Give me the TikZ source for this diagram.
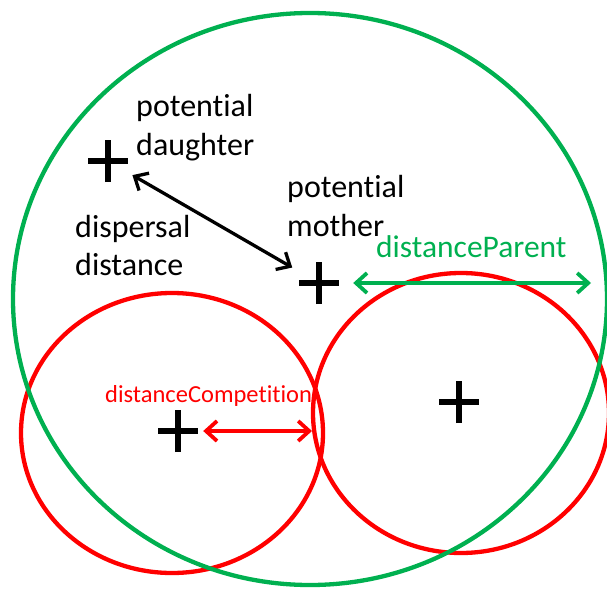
\documentclass[tikz,border=0pt]{standalone}
\usepackage{fontspec}
\setmainfont{Carlito}[Ligatures={NoCommon}]
\usetikzlibrary{arrows.meta}
\definecolor{pgreen}{RGB}{0,176,80}
\definecolor{pred}{RGB}{255,0,0}
\begin{document}
\begin{tikzpicture}[x=1pt,y=-1pt,
  crossmark/.style={circle, minimum size=56pt, inner sep=0pt,
    path picture={\draw[line width=6pt]
      ([xshift=-20pt]path picture bounding box.center) -- ([xshift=20pt]path picture bounding box.center)
      ([yshift=-21pt]path picture bounding box.center) -- ([yshift=21pt]path picture bounding box.center);}},
  bigtxt/.style={anchor=base west, inner sep=0pt, font=\fontsize{32}{38}\selectfont},
  ring/.style={line width=4.3pt},
  dblarrow/.style={line width=3.8pt, {Straight Barb[length=11pt,width=20pt]}-{Straight Barb[length=11pt,width=20pt]}}
]
\useasboundingbox (0,0) rectangle (607,591);
% circles
\draw[ring, pred] (172,433) ellipse [x radius=151, y radius=140];
\draw[ring, pred] (461,413) ellipse [x radius=148, y radius=140];
\draw[ring, pgreen] (310,299) ellipse [x radius=297, y radius=286];
% crosses
\node[crossmark] (d) at (108,161) {};
\node[crossmark] (m) at (319,283) {};
\node[crossmark] (c1) at (178,431) {};
\node[crossmark] (c2) at (459,402) {};
\coordinate (pe) at (591,283);
\coordinate (ce) at (312,431);
% arrows
\draw[dblarrow, black, line width=3.3pt, shorten >=2.7pt] (d) -- (m);
\draw[dblarrow, pgreen, shorten <=6pt] (m) -- (pe);
\draw[dblarrow, pred, shorten <=-3pt] (c1) -- (ce);
% texts
\node[bigtxt] (t1) at (136,117) {potential};
\node[bigtxt] (t2) at (136,155) {daughter};
\node[bigtxt] (t3) at (75,237) {dispersal};
\node[bigtxt] (t4) at (75,275) {distance};
\node[bigtxt] (t5) at (287,197) {potential};
\node[bigtxt] (t6) at (287,236) {mother};
\node[bigtxt, text=pgreen, font=\fontsize{31.5}{36}\selectfont] (t7) at (376,257) {distanceParent};
\node[bigtxt, text=pred, font=\fontsize{24.5}{29}\selectfont] (t8) at (105,402) {distanceCompetition};
\end{tikzpicture}
\end{document}
